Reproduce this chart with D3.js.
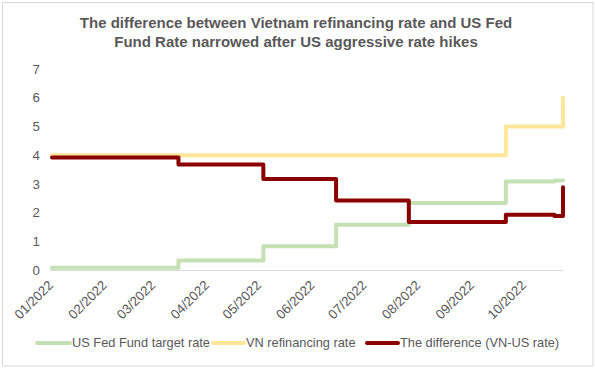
<!DOCTYPE html>
<html>
<head>
<meta charset="utf-8">
<script src="https://cdn.jsdelivr.net/npm/d3@7"></script>
<style>
  body { margin: 0; background: #fff; }
  svg { font-family: "Liberation Sans", Arial, sans-serif; }
</style>
</head>
<body>
<div class="chart-wrapper"></div>
<script>
// dates where at least one of the rates changed
const changeDates = ["2022-01-03", "2022-03-17", "2022-05-05", "2022-06-16", "2022-07-28", "2022-09-22", "2022-10-20", "2022-10-25"]
const fedRate = [0.08, 0.33, 0.83, 1.58, 2.33, 3.08, 3.12, 3.12]
const vnRate = [4, 4, 4, 4, 4, 5, 5, 6]
const diffRate = [3.92, 3.67, 3.17, 2.42, 1.67, 1.92, 1.88, 2.88]

const monthTicks = ["2022-01-01", "2022-02-01", "2022-03-01", "2022-04-01", "2022-05-01", "2022-06-01", "2022-07-01", "2022-08-01", "2022-09-01", "2022-10-01"]
const yTicks = [0, 1, 2, 3, 4, 5, 6, 7]

const seriesNames = ["US Fed Fund target rate", "VN refinancing rate", "The difference (VN-US rate)"]
const seriesColors = ["#c5e0b4", "#ffe699", "#8b0000"]

const titleLines = ["The difference between Vietnam refinancing rate and US Fed", "Fund Rate narrowed after US aggressive rate hikes"]

const width = 595
const height = 368
const textColor = "#595959"

const parse = d3.timeParse("%Y-%m-%d")
const dates = changeDates.map(parse)

const x = d3.scaleTime()
    .domain([dates[0], dates[dates.length - 1]])
    .range([52, 563])

const y = d3.scaleLinear()
    .domain([0, 7])
    .range([270, 69])

const svg = d3.select('.chart-wrapper')
    .append('svg')
    .attr('width', width)
    .attr('height', height)

svg.append('rect')
    .attr('x', 2.5)
    .attr('y', 2.5)
    .attr('width', 590.5)
    .attr('height', 363.5)
    .attr('fill', '#fff')
    .attr('stroke', '#d9d9d9')

svg.append('text')
    .attr('text-anchor', 'middle')
    .attr('font-weight', 'bold')
    .attr('font-size', 15)
    .attr('fill', textColor)
    .selectAll('tspan')
    .data(titleLines)
    .enter().append('tspan')
    .attr('x', 296)
    .attr('y', (d, i) => 28 + i * 18.5)
    .text(d => d)

// y axis
const yAxis = svg.append('g')
    .attr('transform', 'translate(44,0)')
    .call(d3.axisLeft(y).tickValues(yTicks).tickSize(0).tickPadding(4).tickFormat(d3.format('d')))

yAxis.select('.domain').remove()
yAxis.selectAll('text')
    .attr('font-size', 13.3)
    .attr('font-family', '"Liberation Sans", Arial, sans-serif')
    .attr('fill', textColor)

// x axis
const xAxis = svg.append('g')
    .attr('transform', 'translate(0,' + y(0) + ')')
    .call(d3.axisBottom(x)
        .tickValues(monthTicks.map(parse))
        .tickSize(0)
        .tickFormat(d3.timeFormat('%m/%Y')))

xAxis.select('.domain')
    .attr('stroke', '#d9d9d9')
    .attr('d', 'M50,0.5H563')

xAxis.selectAll('text')
    .attr('font-size', 13.3)
    .attr('font-family', '"Liberation Sans", Arial, sans-serif')
    .attr('fill', textColor)
    .attr('text-anchor', 'end')
    .attr('dy', 0)
    .attr('y', 0)
    .attr('transform', 'translate(5,16) rotate(-45)')

// lines
const series = [fedRate, vnRate, diffRate]

const line = d3.line()
    .x((d, i) => x(dates[i]))
    .y(d => y(d))
    .curve(d3.curveStepAfter)

svg.selectAll('.rate-line')
    .data(series)
    .enter().append('path')
    .attr('class', 'rate-line')
    .attr('d', d => line(d))
    .attr('fill', 'none')
    .attr('stroke', (d, i) => seriesColors[i])
    .attr('stroke-width', 4)
    .attr('stroke-linejoin', 'round')
    .attr('stroke-linecap', 'round')

// legend
const legendX = [37, 213, 367]

const legend = svg.selectAll('.legend-item')
    .data(seriesNames)
    .enter().append('g')
    .attr('class', 'legend-item')
    .attr('transform', (d, i) => 'translate(' + legendX[i] + ',343)')

legend.append('line')
    .attr('x1', 0)
    .attr('x2', (d, i) => i == 0 ? 33 : 31)
    .attr('stroke', (d, i) => seriesColors[i])
    .attr('stroke-width', 4)
    .attr('stroke-linecap', 'round')

legend.append('text')
    .attr('x', (d, i) => i == 0 ? 35 : 33)
    .attr('dy', '0.35em')
    .attr('font-size', 12.8)
    .attr('fill', textColor)
    .text(d => d)
</script>
</body>
</html>
